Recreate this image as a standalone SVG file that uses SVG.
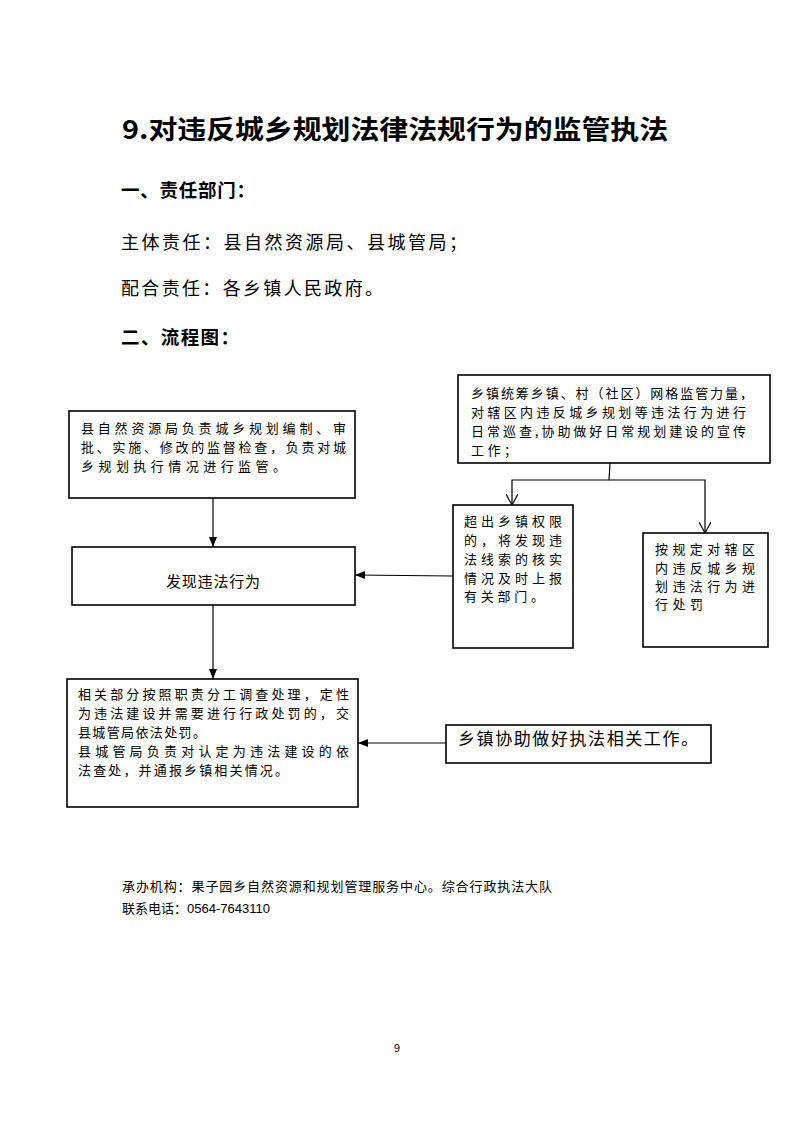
<svg xmlns="http://www.w3.org/2000/svg" width="793" height="1122" viewBox="0 0 793 1122">
<style>
.t{font-family:"Noto Sans CJK SC","Liberation Serif",sans-serif;fill:#000}
.box{fill:#fff;stroke:#000;stroke-width:1.6}
.ln{stroke:#000;stroke-width:1.2;fill:none}
.b16{font-size:13px}
</style>
<defs>
<marker id="solid" viewBox="0 0 10 10" refX="10" refY="5" markerWidth="10" markerHeight="10" markerUnits="userSpaceOnUse" orient="auto">
<path d="M0,1 L10,5 L0,9 Z" fill="#000"/>
</marker>
<marker id="open" viewBox="0 0 12 12" refX="11" refY="6" markerWidth="12" markerHeight="12" markerUnits="userSpaceOnUse" orient="auto">
<path d="M0,0 L11,6 L0,12" fill="none" stroke="#000" stroke-width="1.2"/>
</marker>
</defs>
<rect width="793" height="1122" fill="#fff"/>

<g id="header">
<text class="t" x="122" y="139" font-size="26" font-weight="bold" textLength="546" lengthAdjust="spacingAndGlyphs" font-family="Liberation Serif,Noto Sans CJK SC,serif">9.对违反城乡规划法律法规行为的监管执法</text>
<text class="t" x="121" y="197" font-size="18.5" font-weight="bold" textLength="134" lengthAdjust="spacing">一、责任部门：</text>
<text class="t" x="121" y="249" font-size="18" textLength="346" lengthAdjust="spacing">主体责任：县自然资源局、县城管局；</text>
<text class="t" x="121" y="295" font-size="18" textLength="262" lengthAdjust="spacing">配合责任：各乡镇人民政府。</text>
<text class="t" x="121" y="344" font-size="18.5" font-weight="bold" textLength="118" lengthAdjust="spacing">二、流程图：</text>
</g>

<g id="connectors">
<line class="ln" x1="213" y1="498" x2="213" y2="547" marker-end="url(#solid)"/>
<line class="ln" x1="453" y1="576" x2="355" y2="575" marker-end="url(#solid)"/>
<line class="ln" x1="213" y1="605" x2="213" y2="679" marker-end="url(#solid)"/>
<line class="ln" x1="446" y1="743" x2="358" y2="743" marker-end="url(#solid)"/>
<polyline class="ln" points="610,463 609,480 512,480 512,505" marker-end="url(#open)"/>
<polyline class="ln" points="609,480 705,480 705,533" marker-end="url(#open)"/>
</g>

<g id="node-a">
<rect class="box" x="69" y="411" width="286" height="87"/>
<text class="t b16" x="81" y="433" textLength="265" lengthAdjust="spacing">县自然资源局负责城乡规划编制、审</text>
<text class="t b16" x="81" y="452" textLength="265" lengthAdjust="spacing">批、实施、修改的监督检查，负责对城</text>
<text class="t b16" x="81" y="471" textLength="205" lengthAdjust="spacing">乡规划执行情况进行监管。</text>
</g>

<g id="node-b">
<rect class="box" x="72" y="547" width="283" height="58"/>
<text class="t" x="166" y="587" font-size="15" textLength="94" lengthAdjust="spacing">发现违法行为</text>
</g>

<g id="node-c">
<rect class="box" x="458" y="375" width="312" height="88"/>
<text class="t b16" x="471" y="398" textLength="282" lengthAdjust="spacing">乡镇统筹乡镇、村（社区）网格监管力量，</text>
<text class="t b16" x="471" y="417" textLength="275" lengthAdjust="spacing">对辖区内违反城乡规划等违法行为进行</text>
<text class="t b16" x="471" y="436" textLength="275" lengthAdjust="spacing">日常巡查,协助做好日常规划建设的宣传</text>
<text class="t b16" x="471" y="455" textLength="46" lengthAdjust="spacing">工作；</text>
</g>

<g id="node-d">
<rect class="box" x="453" y="505" width="120" height="143"/>
<text class="t b16" x="464" y="526" textLength="98" lengthAdjust="spacing">超出乡镇权限</text>
<text class="t b16" x="464" y="545" textLength="98" lengthAdjust="spacing">的，将发现违</text>
<text class="t b16" x="464" y="564" textLength="98" lengthAdjust="spacing">法线索的核实</text>
<text class="t b16" x="464" y="583" textLength="98" lengthAdjust="spacing">情况及时上报</text>
<text class="t b16" x="464" y="601" textLength="80" lengthAdjust="spacing">有关部门。</text>
</g>

<g id="node-e">
<rect class="box" x="643" y="533" width="125" height="114"/>
<text class="t b16" x="655" y="554" textLength="100" lengthAdjust="spacing">按规定对辖区</text>
<text class="t b16" x="655" y="573" textLength="100" lengthAdjust="spacing">内违反城乡规</text>
<text class="t b16" x="655" y="591" textLength="100" lengthAdjust="spacing">划违法行为进</text>
<text class="t b16" x="655" y="609" textLength="48" lengthAdjust="spacing">行处罚</text>
</g>

<g id="node-f">
<rect class="box" x="67" y="679" width="291" height="128"/>
<text class="t b16" x="78" y="699" textLength="271" lengthAdjust="spacing">相关部分按照职责分工调查处理，定性</text>
<text class="t b16" x="78" y="718" textLength="271" lengthAdjust="spacing">为违法建设并需要进行行政处罚的，交</text>
<text class="t b16" x="78" y="737" textLength="128" lengthAdjust="spacing">县城管局依法处罚。</text>
<text class="t b16" x="78" y="756" textLength="271" lengthAdjust="spacing">县城管局负责对认定为违法建设的依</text>
<text class="t b16" x="78" y="775" textLength="210" lengthAdjust="spacing">法查处，并通报乡镇相关情况。</text>
</g>

<g id="node-g">
<rect class="box" x="446" y="725" width="265" height="38"/>
<text class="t" x="458" y="745" font-size="17" textLength="240" lengthAdjust="spacing">乡镇协助做好执法相关工作。</text>
</g>

<g id="footer">
<text class="t" x="122" y="891" font-size="13" textLength="430" lengthAdjust="spacing">承办机构：果子园乡自然资源和规划管理服务中心。综合行政执法大队</text>
<text class="t" x="122" y="913" font-size="13">联系电话：<tspan font-family="Liberation Sans,sans-serif">0564-7643110</tspan></text>
<text class="t" x="397" y="1052" font-size="11" text-anchor="middle" font-family="Liberation Sans,sans-serif">9</text>
</g>
</svg>
